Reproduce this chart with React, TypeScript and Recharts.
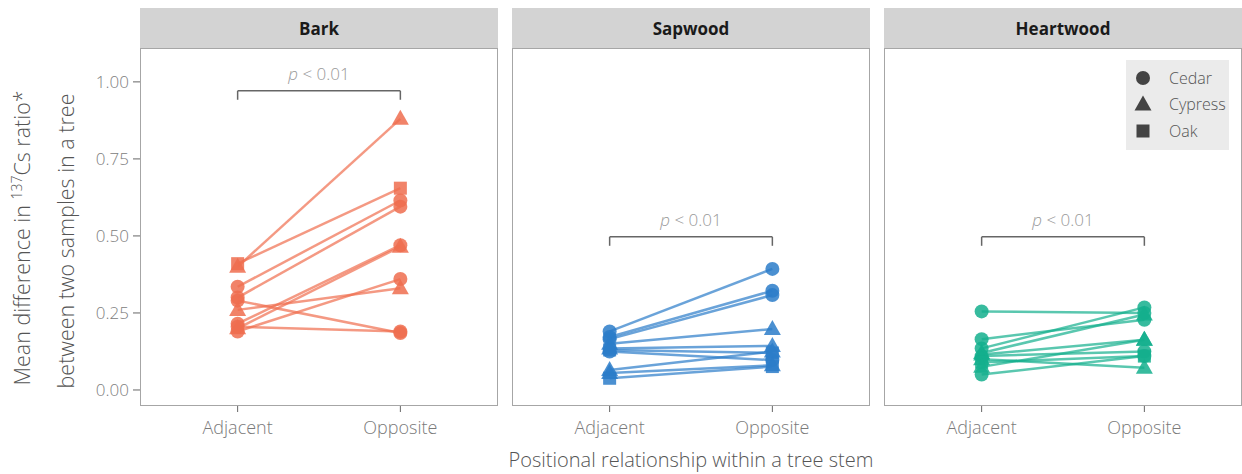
import React from "react";
import { ScatterChart, Scatter, XAxis, YAxis, ReferenceLine } from "recharts";

// x positions: 1 = Adjacent, 2 = Opposite
const categories = ["Adjacent", "Opposite"];
const yTicks = [0, 0.25, 0.5, 0.75, 1];

const barkSpecies = ["Oak", "Cypress", "Cedar", "Cedar", "Cedar", "Cypress", "Cedar", "Cypress", "Cedar", "Cedar"];
const barkAdjacent = [0.41, 0.4, 0.335, 0.3, 0.29, 0.26, 0.215, 0.2, 0.19, 0.205];
const barkOpposite = [0.655, 0.88, 0.615, 0.595, 0.185, 0.33, 0.47, 0.465, 0.36, 0.19];

const sapwoodSpecies = ["Cedar", "Cedar", "Cedar", "Cypress", "Cypress", "Cedar", "Oak", "Cypress", "Cypress", "Oak"];
const sapwoodAdjacent = [0.19, 0.172, 0.165, 0.15, 0.135, 0.125, 0.13, 0.065, 0.055, 0.038];
const sapwoodOpposite = [0.393, 0.322, 0.308, 0.198, 0.143, 0.097, 0.12, 0.125, 0.08, 0.076];

const heartwoodSpecies = ["Cedar", "Cedar", "Cedar", "Cypress", "Cypress", "Cedar", "Cypress", "Oak", "Cypress", "Cedar"];
const heartwoodAdjacent = [0.255, 0.165, 0.135, 0.12, 0.115, 0.11, 0.1, 0.09, 0.075, 0.05];
const heartwoodOpposite = [0.25, 0.228, 0.268, 0.245, 0.163, 0.125, 0.072, 0.11, 0.163, 0.11];

const speciesList = ["Cedar", "Cypress", "Oak"];

const FONT = "'Open Sans', 'Noto Sans', sans-serif";
const PANEL_W = 358;
const PANEL_H = 358;
const Y_DOMAIN = [-0.052, 1.11];

const marker = (species: string, cx: number, cy: number, color: string, opacity = 0.85) => {
  if (species === "Cedar") {
    return <circle cx={cx} cy={cy} r={7} fill={color} fillOpacity={opacity} />;
  }
  if (species === "Cypress") {
    return (
      <path
        d={`M${cx},${cy - 9}L${cx + 8.5},${cy + 6}L${cx - 8.5},${cy + 6}Z`}
        fill={color}
        fillOpacity={opacity}
      />
    );
  }
  return <rect x={cx - 6.5} y={cy - 6.5} width={13} height={13} fill={color} fillOpacity={opacity} />;
};

const PLabel = (props: any) => {
  const { viewBox } = props;
  const x = viewBox.x + viewBox.width / 2;
  return (
    <text x={x} y={viewBox.y - 11} textAnchor="middle" fill="#999" fontSize={17} fontFamily={FONT} fontWeight={300}>
      <tspan fontStyle="italic">p</tspan> {"< 0.01"}
    </text>
  );
};

const YTitle = () => (
  <g fontFamily={FONT} fontWeight={300} fill="#555" fontSize={21.5}>
    <text transform="translate(30,238) rotate(-90)" textAnchor="middle">
      Mean difference in <tspan fontSize={14} dy={-8}>137</tspan>
      <tspan dy={8}>Cs ratio*</tspan>
    </text>
    <text transform="translate(74,241) rotate(-90)" textAnchor="middle">
      between two samples in a tree
    </text>
  </g>
);

type PanelProps = {
  title: string;
  species: string[];
  adjacent: number[];
  opposite: number[];
  color: string;
  left: number;
  bracketY: number;
  showY?: boolean;
};

function Panel({ title, species, adjacent, opposite, color, left, bracketY, showY }: PanelProps) {
  const yW = showY ? 140 : 0;
  const pairs = species.map((s, i) => ({
    species: s,
    data: [
      { x: 1, y: adjacent[i] },
      { x: 2, y: opposite[i] },
    ],
  }));
  return (
    <>
      <div
        style={{
          position: "absolute",
          left: left,
          top: 8,
          width: PANEL_W,
          height: 40,
          background: "#d3d3d3",
          display: "flex",
          alignItems: "center",
          justifyContent: "center",
          fontFamily: FONT,
          fontWeight: 700,
          fontSize: 17,
          color: "#1a1a1a",
        }}
      >
        {title}
      </div>
      <div style={{ position: "absolute", left: left - yW, top: 48 }}>
        <ScatterChart width={PANEL_W + yW} height={PANEL_H + 40} margin={{ top: 0, right: 0, bottom: 0, left: 0 }}>
          <XAxis
            type="number"
            dataKey="x"
            domain={[0.4, 2.6]}
            ticks={[1, 2]}
            tickFormatter={(v: number) => categories[v - 1]}
            height={40}
            axisLine={false}
            tickLine={{ stroke: "#666" }}
            tickSize={6}
            tickMargin={9}
            tick={{ fill: "#7a7a7a", fontSize: 18, fontFamily: FONT, fontWeight: 300 }}
            allowDataOverflow
          />
          <YAxis
            type="number"
            dataKey="y"
            domain={Y_DOMAIN}
            ticks={yTicks}
            tickFormatter={(v: number) => v.toFixed(2)}
            width={yW}
            hide={!showY}
            axisLine={false}
            tickLine={{ stroke: "#666" }}
            tickSize={7}
            tickMargin={4}
            tick={{ fill: "#808080", fontSize: 17, fontFamily: FONT, fontWeight: 300 }}
            allowDataOverflow
          />
          <ReferenceLine
            segment={[
              { x: 1, y: bracketY },
              { x: 2, y: bracketY },
            ]}
            stroke="#666"
            strokeWidth={1.5}
            label={<PLabel />}
          />
          <ReferenceLine
            segment={[
              { x: 1, y: bracketY - 0.029 },
              { x: 1, y: bracketY },
            ]}
            stroke="#666"
            strokeWidth={1.5}
          />
          <ReferenceLine
            segment={[
              { x: 2, y: bracketY - 0.029 },
              { x: 2, y: bracketY },
            ]}
            stroke="#666"
            strokeWidth={1.5}
          />
          {pairs.map((p, i) => (
            <Scatter
              key={i}
              data={p.data}
              fill={color}
              line={{ stroke: color, strokeWidth: 2.5, strokeOpacity: 0.7 }}
              shape={(props: any) => marker(p.species, props.cx, props.cy, color)}
              isAnimationActive={false}
            />
          ))}
        </ScatterChart>
        {showY && (
          <svg style={{ position: "absolute", left: 0, top: -48 }} width={100} height={474}>
            <YTitle />
          </svg>
        )}
      </div>
      <div
        style={{
          position: "absolute",
          left: left,
          top: 48,
          width: PANEL_W - 2,
          height: PANEL_H - 2,
          border: "1px solid #a6a6a6",
          pointerEvents: "none",
        }}
      />
    </>
  );
}

export default function App() {
  return (
    <div style={{ position: "absolute", left: 0, top: 0, width: 1242, height: 474, background: "#fff", overflow: "hidden" }}>
      <Panel title="Bark" species={barkSpecies} adjacent={barkAdjacent} opposite={barkOpposite} color="#EF6D4F" left={140} bracketY={0.971} showY />
      <Panel title="Sapwood" species={sapwoodSpecies} adjacent={sapwoodAdjacent} opposite={sapwoodOpposite} color="#2B7CC9" left={512} bracketY={0.497} />
      <Panel title="Heartwood" species={heartwoodSpecies} adjacent={heartwoodAdjacent} opposite={heartwoodOpposite} color="#14AF8D" left={884} bracketY={0.497} />
      <div
        style={{
          position: "absolute",
          left: 1126,
          top: 60,
          width: 103,
          height: 90,
          background: "#ebebeb",
        }}
      >
        <svg width={103} height={90}>
          {speciesList.map((s, i) => (
            <g key={s}>
              {marker(s, 17, 18 + i * 26.5, "#444", 1)}
              <text x={43} y={23.5 + i * 26.5} fill="#555" fontSize={16} fontFamily={FONT} fontWeight={300}>
                {s}
              </text>
            </g>
          ))}
        </svg>
      </div>
      <div
        style={{
          position: "absolute",
          left: 412,
          width: 558,
          top: 446,
          textAlign: "center",
          fontFamily: FONT,
          fontWeight: 300,
          fontSize: 20,
          color: "#555",
          whiteSpace: "nowrap",
        }}
      >
        Positional relationship within a tree stem
      </div>
    </div>
  );
}
